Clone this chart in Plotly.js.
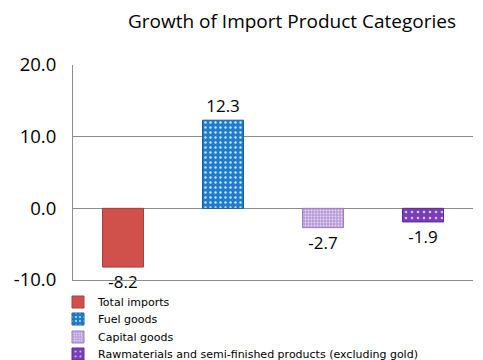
<!DOCTYPE html>
<html>
<head>
<meta charset="utf-8">
<script src="https://cdn.plot.ly/plotly-3.0.1.min.js"></script>
<style>html,body{margin:0;padding:0;background:#fff;}#chart{width:483px;height:360px;}</style>
</head>
<body>
<div id="chart"></div>
<script>
var categories = ["Total imports", "Fuel goods", "Capital goods", "Rawmaterials and semi-finished products (excluding gold)"];
var values = [-8.2, 12.3, -2.7, -1.9];
var labels = ["-8.2", "12.3", "-2.7", "-1.9"];
var yTicks = [-10, 0, 10, 20];
var yTickText = ["-10.0", "0.0", "10.0", "20.0"];

var fills = ["#D0504C", "#1E7CC9", "#B79BD9", "#7A3DB8"];
var lines = ["#A83E3B", "#165E9C", "#9A7EC0", "#5E2C90"];
var patterns = [
  {shape: ""},
  {shape: ".", fgcolor: "#CFE6FA", bgcolor: "#1E7CC9", size: 5, solidity: 0.18, fillmode: "replace"},
  {shape: ".", fgcolor: "#E6DAF3", bgcolor: "#B79BD9", size: 3, solidity: 0.3, fillmode: "replace"},
  {shape: ".", fgcolor: "#D8C4EE", bgcolor: "#7A3DB8", size: 6, solidity: 0.15, fillmode: "replace"}
];
var legendIds = ["legend", "legend2", "legend3", "legend4"];
var legendRowY = [302, 319, 337, 354];

var traces = categories.map(function (c, i) {
  var m = {color: fills[i], line: {color: lines[i], width: 1}};
  if (patterns[i].shape) m.pattern = patterns[i];
  return {
    type: "bar",
    name: c,
    legend: legendIds[i],
    x: [c],
    y: [values[i]],
    text: [labels[i]],
    textposition: "outside",
    cliponaxis: false,
    textfont: {family: "Open Sans", size: 17, color: "#000"},
    marker: m,
    width: 0.41,
    hoverinfo: "skip"
  };
});

var layout = {
  width: 483, height: 360,
  margin: {l: 73, r: 10, t: 65, b: 80},
  paper_bgcolor: "#fff", plot_bgcolor: "#fff",
  barmode: "overlay",
  showlegend: true,
  title: {
    text: "Growth of Import Product Categories",
    font: {family: "Open Sans", size: 19, color: "#000"},
    x: 292 / 483, xanchor: "center", y: 1 - 21 / 360, yanchor: "middle"
  },
  xaxis: {
    type: "category",
    categoryorder: "array", categoryarray: categories,
    showticklabels: false, showgrid: false, zeroline: false,
    showline: true, linecolor: "#8c8c8c", linewidth: 1,
    ticks: "", range: [-0.5, 3.5], fixedrange: true
  },
  yaxis: {
    range: [-10, 20],
    tickvals: yTicks, ticktext: yTickText,
    tickfont: {family: "Open Sans", size: 18.5, color: "#000"},
    showgrid: true, gridcolor: "#8c8c8c", gridwidth: 1,
    zeroline: false,
    showline: true, linecolor: "#8c8c8c", linewidth: 1,
    ticks: "outside", ticklen: 12, tickcolor: "rgba(0,0,0,0)",
    fixedrange: true
  }
};

legendIds.forEach(function (id, i) {
  layout[id] = {
    orientation: "v",
    x: (58 - 73) / 400, xanchor: "left", xref: "paper",
    y: 1 - legendRowY[i] / 360, yanchor: "middle", yref: "container",
    font: {family: "DejaVu Sans", size: 11, color: "#000"},
    itemwidth: 30,
    bgcolor: "rgba(0,0,0,0)"
  };
});

Plotly.newPlot("chart", traces, layout, {displayModeBar: false, staticPlot: true});
</script>
</body>
</html>
